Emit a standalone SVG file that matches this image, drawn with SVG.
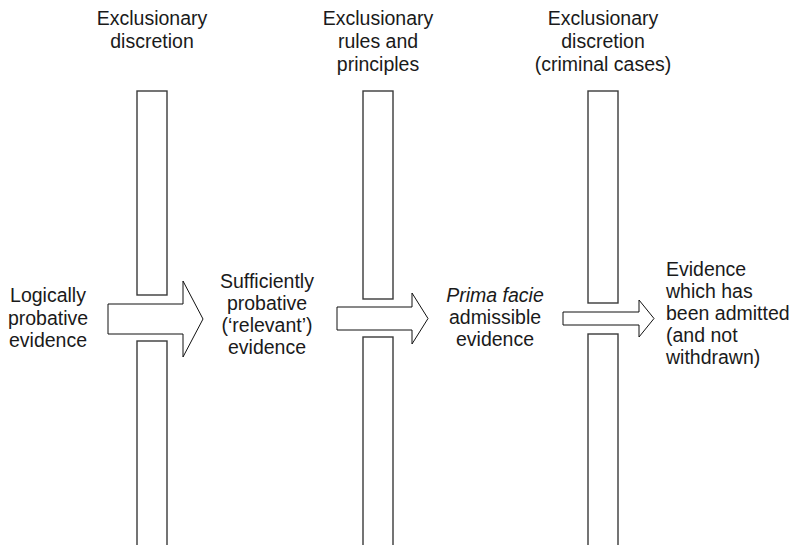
<svg xmlns="http://www.w3.org/2000/svg" width="794" height="545" viewBox="0 0 794 545">
<style>
text{font-family:"Liberation Sans",Arial,sans-serif;font-size:19.5px;fill:#1a1a1a}
.c{text-anchor:middle}
.bar{fill:#fff;stroke:#3a3a3a;stroke-width:1.4}
.arr{fill:#fff;stroke:#111;stroke-width:1}
</style>
<rect width="794" height="545" fill="#fff"/>
<g id="title1"><text class="c" x="152" y="25">Exclusionary</text><text class="c" x="152" y="48">discretion</text></g>
<g id="title2"><text class="c" x="378" y="25">Exclusionary</text><text class="c" x="378" y="48">rules and</text><text class="c" x="378" y="71">principles</text></g>
<g id="title3"><text class="c" x="603" y="25">Exclusionary</text><text class="c" x="603" y="48">discretion</text><text class="c" x="603" y="71">(criminal cases)</text></g>
<g id="bar1"><rect class="bar" x="137" y="91" width="30" height="204"/><rect class="bar" x="137" y="341" width="30" height="215"/></g>
<g id="bar2"><rect class="bar" x="363" y="91" width="30" height="208"/><rect class="bar" x="363" y="337" width="30" height="219"/></g>
<g id="bar3"><rect class="bar" x="588" y="91" width="30" height="212"/><rect class="bar" x="588" y="334" width="30" height="222"/></g>
<g id="connectors">
<path class="arr" d="M108,304 H183 V281 L203,319 L183,357 V334 H108 Z"/>
<path class="arr" d="M337,307 H412 V293 L428,318.5 L412,344 V330 H337 Z"/>
<path class="arr" d="M563,312 H639 V300 L654,318.5 L639,337 V325 H563 Z"/>
</g>
<g id="stage1"><text class="c" x="48" y="302">Logically</text><text class="c" x="48" y="325">probative</text><text class="c" x="48" y="347">evidence</text></g>
<g id="stage2"><text class="c" x="267" y="288">Sufficiently</text><text class="c" x="267" y="310">probative</text><text class="c" x="267" y="332">(‘relevant’)</text><text class="c" x="267" y="354">evidence</text></g>
<g id="stage3"><text class="c" x="495" y="302"><tspan font-style="italic">Prima facie</tspan></text><text class="c" x="495" y="324">admissible</text><text class="c" x="495" y="346">evidence</text></g>
<g id="stage4"><text x="666" y="276">Evidence</text><text x="666" y="298">which has</text><text x="666" y="320">been admitted</text><text x="666" y="342">(and not</text><text x="666" y="364">withdrawn)</text></g>
</svg>
